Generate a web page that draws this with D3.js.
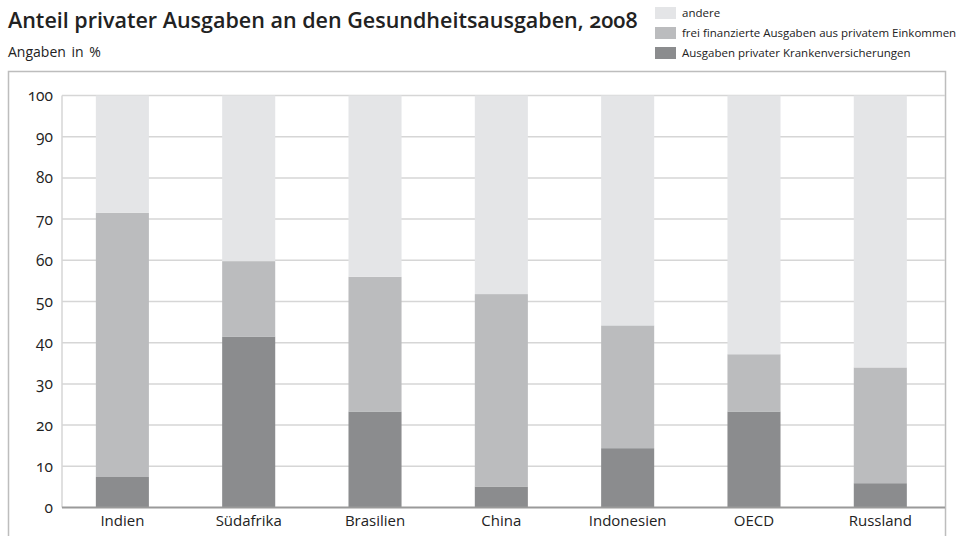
<!DOCTYPE html>
<html>
<head>
<meta charset="utf-8">
<script src="https://cdn.jsdelivr.net/npm/d3@7"></script>
<style>
  body { margin: 0; background: #fff; }
  svg { display: block; font-family: "Open Sans", Lato, sans-serif; }
  .num, .num text { font-variant-numeric: oldstyle-nums; font-feature-settings: "onum"; }
</style>
</head>
<body>
<script>
// Anteil privater Ausgaben an den Gesundheitsausgaben, 2008 (in %)
var laender = ["Indien", "Südafrika", "Brasilien", "China", "Indonesien", "OECD", "Russland"];
var krankenversicherung = [7.4, 41.5, 23.3, 5.1, 14.4, 23.3, 5.9];
var freiFinanziert = [64.1, 18.3, 32.7, 46.7, 29.8, 13.9, 28.1];
var andere = [28.5, 40.2, 44.0, 48.2, 55.8, 62.8, 66.0];
var yTicks = [0, 10, 20, 30, 40, 50, 60, 70, 80, 90, 100];

var serien = ["kranken", "frei", "andere"];
var legendeText = {
  andere: "andere",
  frei: "frei finanzierte Ausgaben aus privatem Einkommen",
  kranken: "Ausgaben privater Krankenversicherungen"
};
var farbe = { kranken: "#8b8c8e", frei: "#bbbcbe", andere: "#e4e5e7" };

var tabelle = laender.map(function(l, i) {
  return { land: l, kranken: krankenversicherung[i], frei: freiFinanziert[i], andere: andere[i] };
});

var svg = d3.select("body").append("svg")
  .attr("width", 958)
  .attr("height", 536);

// titel
svg.append("text")
  .attr("class", "num")
  .attr("x", 8).attr("y", 28)
  .attr("font-size", 21.5).attr("font-weight", 600).attr("fill", "#222")
  .text("Anteil privater Ausgaben an den Gesundheitsausgaben, 2008");
svg.append("text")
  .attr("x", 8).attr("y", 57)
  .attr("font-size", 14).attr("fill", "#222").attr("word-spacing", 2)
  .text("Angaben in %");

// legende
var leg = svg.append("g");
["andere", "frei", "kranken"].forEach(function(k, i) {
  leg.append("rect")
    .attr("x", 655).attr("y", 7 + i * 20)
    .attr("width", 21).attr("height", 12)
    .attr("fill", farbe[k]);
  leg.append("text")
    .attr("x", 682).attr("y", 17 + i * 20)
    .attr("font-size", 11.5).attr("fill", "#222")
    .text(legendeText[k]);
});

// rahmen
svg.append("rect")
  .attr("x", 8.5).attr("y", 71.5)
  .attr("width", 937).attr("height", 500)
  .attr("fill", "none").attr("stroke", "#bdbdbd").attr("stroke-width", 1.5);

var x = d3.scaleBand()
  .domain(laender)
  .range([62, 945])
  .paddingInner(0.58)
  .paddingOuter(0.285)
  .align(0.47);

var y = d3.scaleLinear()
  .domain([0, 100])
  .range([507.5, 95.5]);

// gitterlinien
svg.append("g")
  .selectAll("line")
  .data(yTicks.slice(1))
  .enter().append("line")
  .attr("x1", 62).attr("x2", 945)
  .attr("y1", function(d) { return y(d); })
  .attr("y2", function(d) { return y(d); })
  .attr("stroke", "#d6d6d6").attr("stroke-width", 1.5);

svg.append("line")
  .attr("x1", 62).attr("x2", 62)
  .attr("y1", y(100)).attr("y2", y(0))
  .attr("stroke", "#d6d6d6").attr("stroke-width", 1.5);

var stapel = d3.stack().keys(serien)(tabelle);

svg.append("g")
  .selectAll("g")
  .data(stapel)
  .enter().append("g")
  .attr("fill", function(d) { return farbe[d.key]; })
  .selectAll("rect")
  .data(function(d) { return d; })
  .enter().append("rect")
  .attr("x", function(d) { return x(d.data.land); })
  .attr("width", x.bandwidth())
  .attr("y", function(d) { return y(d[1]); })
  .attr("height", function(d) { return y(d[0]) - y(d[1]); });

// y achse
var yAxis = svg.append("g")
  .attr("class", "num")
  .attr("transform", "translate(62,0)")
  .call(d3.axisLeft(y).tickValues(yTicks).tickSize(0).tickPadding(9));
yAxis.select(".domain").remove();
yAxis.selectAll("text")
  .attr("font-size", 15.5).attr("fill", "#222")
  .style("font-family", "'Open Sans', sans-serif")
  .style("font-variant-numeric", "oldstyle-nums")
  .style("font-feature-settings", "'onum' 1");

// x achse
svg.append("line")
  .attr("x1", 62).attr("x2", 945)
  .attr("y1", y(0)).attr("y2", y(0))
  .attr("stroke", "#9a9a9a").attr("stroke-width", 2);

var xAxis = svg.append("g")
  .attr("transform", "translate(0," + y(0) + ")")
  .call(d3.axisBottom(x).tickSize(0).tickPadding(8));
xAxis.select(".domain").remove();
xAxis.selectAll("text").attr("font-size", 15).attr("fill", "#222").style("font-family", "'Open Sans', sans-serif");
</script>
</body>
</html>
